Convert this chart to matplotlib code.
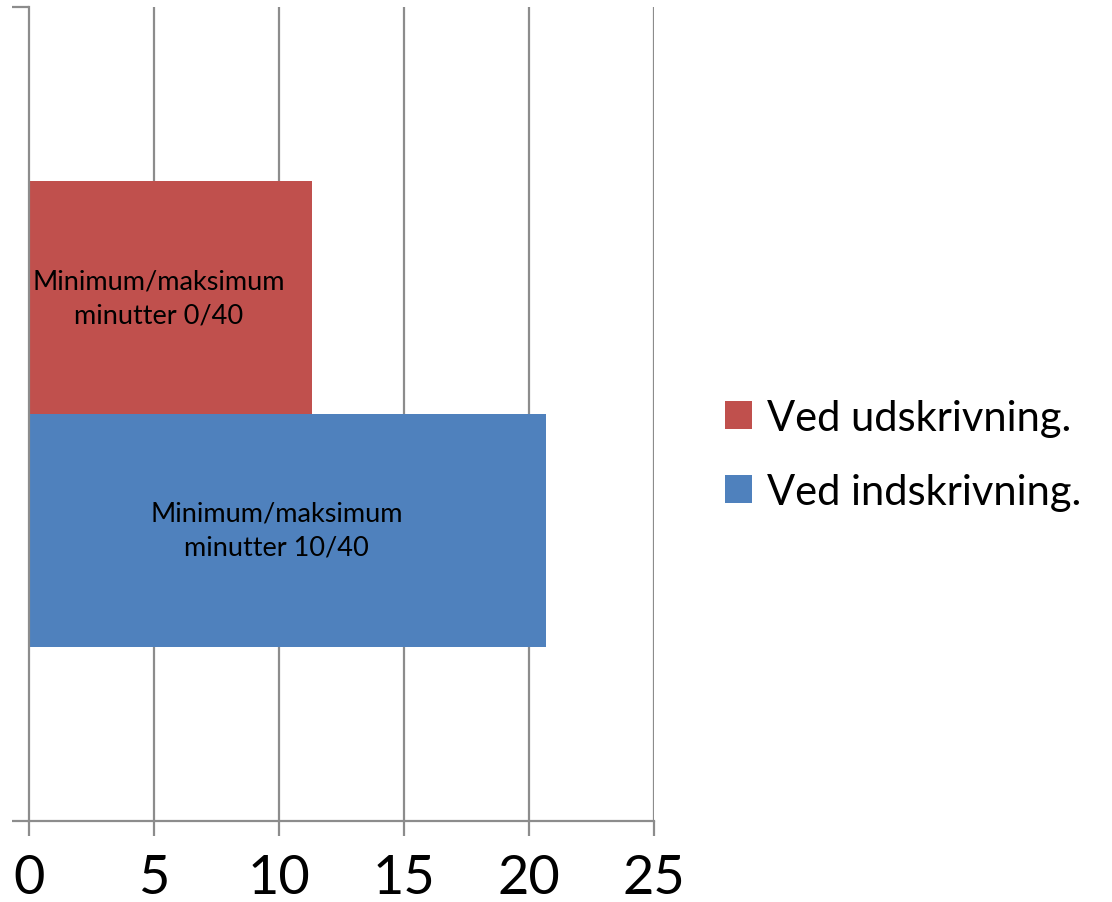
import matplotlib
matplotlib.use("Agg")
import matplotlib.pyplot as plt
from matplotlib.patches import Patch

plt.rcParams['font.family'] = ['Lato', 'DejaVu Sans']

series_names = ["Ved udskrivning.", "Ved indskrivning."]
series_values = [11.3, 20.7]
series_colors = ["#C0504D", "#4F81BD"]
bar_labels = ["Minimum/maksimum\nminutter 0/40", "Minimum/maksimum\nminutter 10/40"]
x_ticks = [0, 5, 10, 15, 20, 25]

fig = plt.figure(figsize=(11.12, 9.03), dpi=100)
ax = fig.add_axes([29/1112, 81/903, (654-29)/1112, (822-8)/903])

gap = 1.5
bw = 1.0 / (len(series_values) + gap)
offsets = [bw/2, -bw/2]
grid_c = "#8C8C8C"

for v in x_ticks[1:]:
    ax.axvline(v, color=grid_c, lw=1.6, zorder=0)

for name, val, col, lab, off in zip(series_names, series_values, series_colors, bar_labels, offsets):
    ax.barh(off, val, height=bw, color=col, zorder=2, label=name)
    ax.text(val/2 - 0.45, off, lab, ha='center', va='center', fontsize=19.5,
            linespacing=1.45, color='black', zorder=3)

ax.set_xlim(0, 25)
ax.set_ylim(-0.5, 0.5)
ax.set_xticks(x_ticks)
ax.set_xticklabels([str(t) for t in x_ticks], fontsize=39)
ax.set_yticks([-0.5, 0.5])
ax.set_yticklabels([])
ax.tick_params(axis='x', length=11, width=1.6, color=grid_c, pad=12, direction='out')
ax.tick_params(axis='y', length=12, width=1.6, color=grid_c, direction='out')
for s in ['top', 'right']:
    ax.spines[s].set_visible(False)
for s in ['left', 'bottom']:
    ax.spines[s].set_color(grid_c)
    ax.spines[s].set_linewidth(1.6)
ax.set_facecolor('white')

handles = [Patch(facecolor=c, edgecolor='none') for c in series_colors]
fig.legend(handles, series_names, loc='upper left', bbox_to_anchor=(725/1112, 1 - 400/903),
           frameon=False, fontsize=30, handlelength=0.65, handleheight=0.65,
           handletextpad=0.36, labelspacing=0.86, borderpad=0, borderaxespad=0)

fig.savefig("out.png", dpi=100)
